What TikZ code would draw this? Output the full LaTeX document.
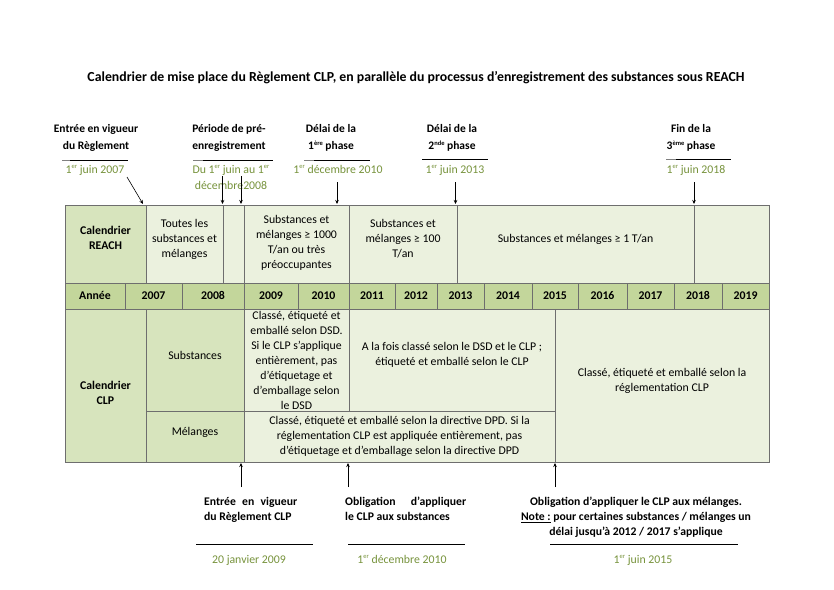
\documentclass[tikz,border=0pt]{standalone}
\usepackage{fontspec}
\setmainfont{Carlito}[Numbers=Lining]
\usetikzlibrary{arrows.meta}
\definecolor{darkc}{HTML}{D7E4BD}
\definecolor{yearc}{HTML}{C3D69B}
\definecolor{lightc}{HTML}{EBF1DE}
\definecolor{borderc}{HTML}{6E6E6E}
\definecolor{datec}{HTML}{77933C}
\newcommand{\sps}[1]{\raisebox{0.75ex}{\fontsize{6.5}{6.5}\selectfont #1}}
\newcommand{\yr}[1]{\textbf{\strut #1}}
\newcommand{\mycell}[8]{%
  \pgfmathsetmacro\cx{(#2+#4)/2}%
  \pgfmathsetmacro\cy{(#3+#5)/2}%
  \pgfmathsetmacro\ty{\cy+(#7)}%
  \pgfmathsetmacro\cw{#4-#2}%
  \pgfmathsetmacro\ch{#5-#3}%
  \node[cellbox, fill=#6, minimum width=\cw pt, minimum height=\ch pt] (#1) at (\cx,\cy) {};
  \node[celltext] (#1t) at (\cx,\ty) {#8};}
\begin{document}
\begin{tikzpicture}[x=1pt,y=-1pt,
  every node/.style={font=\fontsize{11.8}{15}\selectfont},
  cellbox/.style={draw=borderc, line width=0.6pt, inner sep=0pt, outer sep=0pt},
  celltext/.style={align=center, inner sep=0pt},
  ann/.style={font=\bfseries\fontsize{11.5}{17}\selectfont, align=center, inner sep=0pt},
  bann/.style={font=\bfseries\fontsize{11.7}{15}\selectfont, inner sep=0pt},
  dat/.style={text=datec, align=center, inner sep=0pt, anchor=base, font=\fontsize{11.8}{16}\selectfont},
  arr/.style={-{Stealth[length=4pt,width=3.5pt]}, line width=0.6pt},
  rule/.style={line width=0.7pt, black},
  grule/.style={line width=0.7pt, gray}]
\useasboundingbox (0,0) rectangle (834,589);
\fill[white] (0,0) rectangle (834,589);
% title
\node[font=\bfseries\fontsize{13.8}{16}\selectfont, inner sep=0pt] (title) at (416,78) {Calendrier de mise place du Règlement CLP, en parallèle du processus d’enregistrement des substances sous REACH};
% REACH row
\mycell{cr}{65}{205}{146}{283}{darkc}{-6}{\textbf{Calendrier}\\\textbf{REACH}}
\mycell{tl}{146}{205}{223}{283}{lightc}{-5}{Toutes les\\substances et\\mélanges}
\mycell{ea}{223}{205}{244}{283}{lightc}{0}{}
\mycell{sa}{244}{205}{349}{283}{lightc}{-1}{Substances et\\mélanges ≥ 1000\\T/an ou très\\préoccupantes}
\mycell{sb}{349}{205}{457}{283}{lightc}{-5}{Substances et\\mélanges ≥ 100\\T/an}
\mycell{sc}{457}{205}{694}{283}{lightc}{-5}{Substances et mélanges ≥ 1 T/an}
\mycell{eb}{694}{205}{769}{283}{lightc}{0}{}
% year row
\mycell{yan}{65}{283}{125}{309}{yearc}{0}{\yr{Année}}
\mycell{ya}{125}{283}{182}{309}{yearc}{0}{\yr{2007}}
\mycell{yb}{182}{283}{244}{309}{yearc}{0}{\yr{2008}}
\mycell{yc}{244}{283}{298}{309}{yearc}{0}{\yr{2009}}
\mycell{yd}{298}{283}{349}{309}{yearc}{0}{\yr{2010}}
\mycell{ye}{349}{283}{395}{309}{yearc}{0}{\yr{2011}}
\mycell{yf}{395}{283}{437}{309}{yearc}{0}{\yr{2012}}
\mycell{yg}{437}{283}{484}{309}{yearc}{0}{\yr{2013}}
\mycell{yh}{484}{283}{532}{309}{yearc}{0}{\yr{2014}}
\mycell{yi}{532}{283}{578}{309}{yearc}{0}{\yr{2015}}
\mycell{yj}{578}{283}{627}{309}{yearc}{0}{\yr{2016}}
\mycell{yk}{627}{283}{674}{309}{yearc}{0}{\yr{2017}}
\mycell{yl}{674}{283}{722}{309}{yearc}{0}{\yr{2018}}
\mycell{ym}{722}{283}{769}{309}{yearc}{0}{\yr{2019}}
% CLP rows
\mycell{cc}{65}{309}{146}{462}{darkc}{7}{\textbf{Calendrier}\\\textbf{CLP}}
\mycell{sl}{146}{309}{244}{411}{darkc}{-5}{Substances}
\mycell{ml}{146}{411}{244}{462}{darkc}{-4.5}{Mélanges}
\mycell{dsd}{244}{309}{349}{411}{lightc}{0}{\fontsize{11.8}{14.4}\selectfont Classé, étiqueté et\\emballé selon DSD.\\Si le CLP s’applique\\entièrement, pas\\d’étiquetage et\\d’emballage selon\\le DSD}
\mycell{alf}{349}{309}{555}{411}{lightc}{-5}{A la fois classé selon le DSD et le CLP ;\\étiqueté et emballé selon le CLP}
\mycell{dpd}{244}{411}{555}{462}{lightc}{0}{Classé, étiqueté et emballé selon la directive DPD. Si la\\réglementation CLP est appliquée entièrement, pas\\d’étiquetage et d’emballage selon la directive DPD}
\mycell{clp}{555}{309}{769}{462}{lightc}{-5}{Classé, étiqueté et emballé selon la\\réglementation CLP}
% top annotations
\node[ann] (t1) at (96,138) {Entrée en vigueur\\du Règlement};
\draw[rule] (70,160) -- (128,160);
\draw[grule] (62,160) -- (70,160);
\node[dat] (d1) at (95,173) {1\sps{er} juin 2007};
\coordinate (t1s) at (127,177);
\coordinate (t1e) at (143,204);
\draw[arr] (t1s) -- (t1e);

\node[ann, align=left] (t2) at (229,138) {Période de pré-\\enregistrement};
\draw[rule] (203,160) -- (273,160);
\draw[grule] (193,160) -- (203,160);
\node[dat] (d2) at (231,189) {Du 1\sps{er} juin au 1\sps{er}\\décembre2008};
\coordinate (t2s) at (222.5,176);
\coordinate (t2e) at (222.5,204);
\coordinate (t2s2) at (241,176);
\coordinate (t2e2) at (241,204);
\draw[arr] (t2s) -- (t2e);
\draw[arr] (t2s2) -- (t2e2);

\node[ann] (t3) at (331,138) {Délai de la\\1\sps{ère} phase};
\draw[rule] (314,160) -- (370,160);
\draw[grule] (304,160) -- (314,160);
\node[dat] (d3) at (338,173) {1\sps{er} décembre 2010};
\coordinate (t3s) at (337,182);
\coordinate (t3e) at (337,204);
\draw[arr] (t3s) -- (t3e);

\node[ann] (t4) at (452,138) {Délai de la\\2\sps{nde} phase};
\draw[rule] (422,159) -- (488,159);
\node[dat] (d4) at (455,173) {1\sps{er} juin 2013};
\coordinate (t4s) at (455.5,182);
\coordinate (t4e) at (455.5,204);
\draw[arr] (t4s) -- (t4e);

\node[ann] (t5) at (691,138) {Fin de la\\3\sps{ème} phase};
\draw[rule] (676,159) -- (731,159);
\draw[grule] (666,159) -- (676,159);
\node[dat] (d5) at (696,173) {1\sps{er} juin 2018};
\coordinate (t5s) at (694,182);
\coordinate (t5e) at (694,204);
\draw[arr] (t5s) -- (t5e);

% bottom annotations
\coordinate (b1s) at (241,487);
\coordinate (b1e) at (241,463);
\draw[arr] (b1s) -- (b1e);
\node[bann, anchor=north west, align=left] (b1) at (204,497) {\makebox[93pt][s]{Entrée en vigueur}\\du Règlement CLP};
\draw[rule] (196,544) -- (313,544);
\node[dat] (bd1) at (249,563) {20 janvier 2009};

\coordinate (b2s) at (348,487);
\coordinate (b2e) at (348,463);
\draw[arr] (b2s) -- (b2e);
\node[bann, anchor=north west, align=left] (b2) at (345,497) {\makebox[121pt][s]{Obligation d’appliquer}\\le CLP aux substances};
\draw[rule] (348,544) -- (465,544);
\node[dat] (bd2) at (402,563) {1\sps{er} décembre 2010};

\coordinate (b3s) at (555,487);
\coordinate (b3e) at (555,463);
\draw[arr] (b3s) -- (b3e);
\node[bann, align=center, anchor=north] (b3) at (636,497) {Obligation d’appliquer le CLP aux mélanges.\\\underline{Note :} pour certaines substances / mélanges un\\délai jusqu’à 2012 / 2017 s’applique};
\draw[rule] (550,544) -- (738,544);
\node[dat] (bd3) at (643,563) {1\sps{er} juin 2015};
\end{tikzpicture}
\end{document}
